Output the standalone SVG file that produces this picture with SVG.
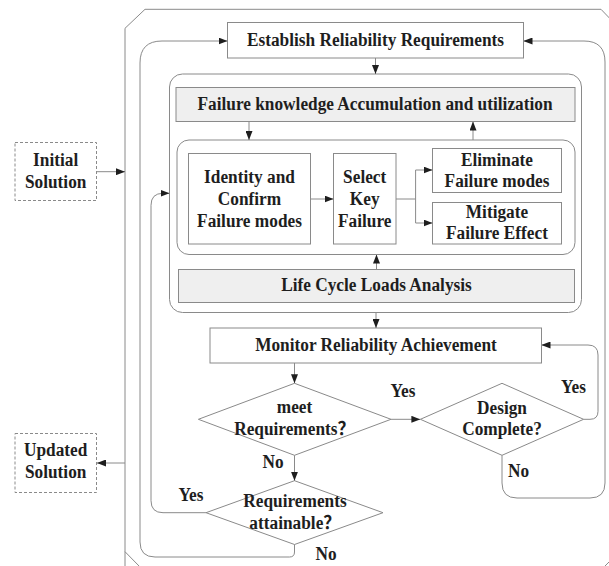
<svg xmlns="http://www.w3.org/2000/svg" width="609" height="566" viewBox="0 0 609 566">
<defs>
<marker id="ah" markerUnits="userSpaceOnUse" markerWidth="9" markerHeight="7" refX="9" refY="3.5" orient="auto">
<path d="M0,0 L9,3.5 L0,7 z" fill="#1e1e1e"/>
</marker>
</defs>
<style>
.box{fill:#ffffff;stroke:#8a8a8a;stroke-width:1}
.grey{fill:#efefef;stroke:#8a8a8a;stroke-width:1}
.dash{fill:#ffffff;stroke:#8a8a8a;stroke-width:1;stroke-dasharray:3,2}
.ln{fill:none;stroke:#8a8a8a;stroke-width:1}
.ar{fill:none;stroke:#8a8a8a;stroke-width:1;marker-end:url(#ah)}
text{font-family:"Liberation Serif","Noto Sans CJK SC",serif;font-weight:bold;font-size:18.3px;fill:#1e1e1e;text-anchor:middle}
.t{transform:scale(0.945,1)}
</style>
<rect width="609" height="566" fill="#ffffff"/>
<g id="frame">
<path class="ln" d="M125,570 L125,28.3 L145,9.3 L601,9.3 L619,28 L619,552 L603,568"/>
<path class="ln" d="M125,551.7 L141,568"/>
</g>
<g id="container">
<rect class="box" x="169.5" y="74" width="412" height="238.5" rx="13"/>
</g>
<g id="inner">
<rect class="box" x="177" y="140" width="398" height="114.5" rx="12"/>
</g>
<g id="establish">
<rect class="box" x="227.5" y="22.5" width="296" height="35.5"/>
<text class="t" x="397.35" y="46">Establish Reliability Requirements</text>
</g>
<g id="knowledge">
<rect class="grey" x="176" y="87.5" width="399" height="34"/>
<text class="t" x="396.83" y="110.3">Failure knowledge Accumulation and utilization</text>
</g>
<g id="identity">
<rect class="box" x="188.5" y="153.5" width="122" height="90.5"/>
<text class="t" x="264.02" y="183">Identity and</text>
<text class="t" x="264.02" y="205">Confirm</text>
<text class="t" x="264.02" y="227">Failure modes</text>
</g>
<g id="select">
<rect class="box" x="333.5" y="153.5" width="62.5" height="90.5"/>
<text class="t" x="385.93" y="183">Select</text>
<text class="t" x="385.93" y="205">Key</text>
<text class="t" x="385.93" y="227">Failure</text>
</g>
<g id="eliminate">
<rect class="box" x="432.5" y="148.5" width="129" height="44"/>
<text class="t" x="525.93" y="166.5">Eliminate</text>
<text class="t" x="525.93" y="187">Failure modes</text>
</g>
<g id="mitigate">
<rect class="box" x="432.5" y="202.5" width="129" height="41.5"/>
<text class="t" x="525.93" y="217.7">Mitigate</text>
<text class="t" x="525.93" y="239.3">Failure Effect</text>
</g>
<g id="lifecycle">
<rect class="grey" x="178.5" y="269.5" width="396" height="33"/>
<text class="t" x="398.41" y="291.3">Life Cycle Loads Analysis</text>
</g>
<g id="monitor">
<rect class="box" x="210" y="328" width="331.5" height="35"/>
<text class="t" x="397.88" y="351.2">Monitor Reliability Achievement</text>
</g>
<g id="initial">
<rect class="dash" x="15" y="142.5" width="81.5" height="58"/>
<text class="t" x="58.94" y="166">Initial</text>
<text class="t" x="58.94" y="188.5">Solution</text>
</g>
<g id="updated">
<rect class="dash" x="15" y="433.5" width="81.5" height="59"/>
<text class="t" x="58.94" y="456.5">Updated</text>
<text class="t" x="58.94" y="478.5">Solution</text>
</g>
<g id="meet">
<polygon class="box" points="294.5,383.3 391,419.3 294.5,455.3 198.4,419.3"/>
<text class="t" x="311.64" y="412.7">meet</text>
<text class="t" x="311.64" y="434.7">Requirements？</text>
</g>
<g id="design">
<polygon class="box" points="502,383.3 583.6,419.3 502,455.3 420.4,419.3"/>
<text class="t" x="531.22" y="414">Design</text>
<text class="t" x="531.22" y="435.3">Complete?</text>
</g>
<g id="attainable">
<polygon class="box" points="294.5,480.7 383,512.7 294.5,544.5 206,512.7"/>
<text class="t" x="312.17" y="506.7">Requirements</text>
<text class="t" x="312.17" y="529.3">attainable？</text>
</g>
<g id="connectors">
<path class="ar" d="M96.5,171.7 L125,171.7"/>
<path class="ar" d="M125,463 L97,463"/>
<path class="ar" d="M375.5,58 L375.5,74"/>
<path class="ar" d="M249,121.5 L249,140"/>
<path class="ar" d="M473,140 L473,121.5"/>
<path class="ar" d="M310.5,199 L333.5,199"/>
<path class="ln" d="M396,199 L415.6,199 M415.6,170 L415.6,223"/>
<path class="ar" d="M415.6,170 L432.5,170"/>
<path class="ar" d="M415.6,223 L432.5,223"/>
<path class="ar" d="M376.5,269.5 L376.5,254.5"/>
<path class="ar" d="M376,312.5 L376,328"/>
<path class="ar" d="M294.5,363 L294.5,383.3"/>
<path class="ar" d="M391,419.3 L420.4,419.3"/>
<path class="ar" d="M294.5,455.3 L294.5,480.7"/>
<path class="ar" d="M206,512.7 L163,512.7 Q151,512.7 151,500.7 L151,205.3 Q151,193.3 163,193.3 L169.5,193.3"/>
<path class="ar" d="M294.5,544.5 L294.5,552 Q294.5,557 289.5,557 L155,557 Q140,557 140,542 L140,63 Q140,41 162,41 L227.5,41"/>
<path class="ar" d="M583.6,419.3 L590,419.3 Q598,419.3 598,411.3 L598,355 Q598,345 588,345 L541.5,345"/>
<path class="ar" d="M502,455.3 L502,483 Q502,498 517,498 L590,498 Q605,498 605,483 L605,62 Q605,41 584,41 L523.5,41"/>
</g>
<g id="labels">
<text class="t" x="426.46" y="397.3">Yes</text>
<text class="t" x="606.88" y="393.3">Yes</text>
<text class="t" x="288.89" y="468.3">No</text>
<text class="t" x="548.68" y="476.7">No</text>
<text class="t" x="202.12" y="500.7">Yes</text>
<text class="t" x="344.97" y="560">No</text>
</g>
</svg>
